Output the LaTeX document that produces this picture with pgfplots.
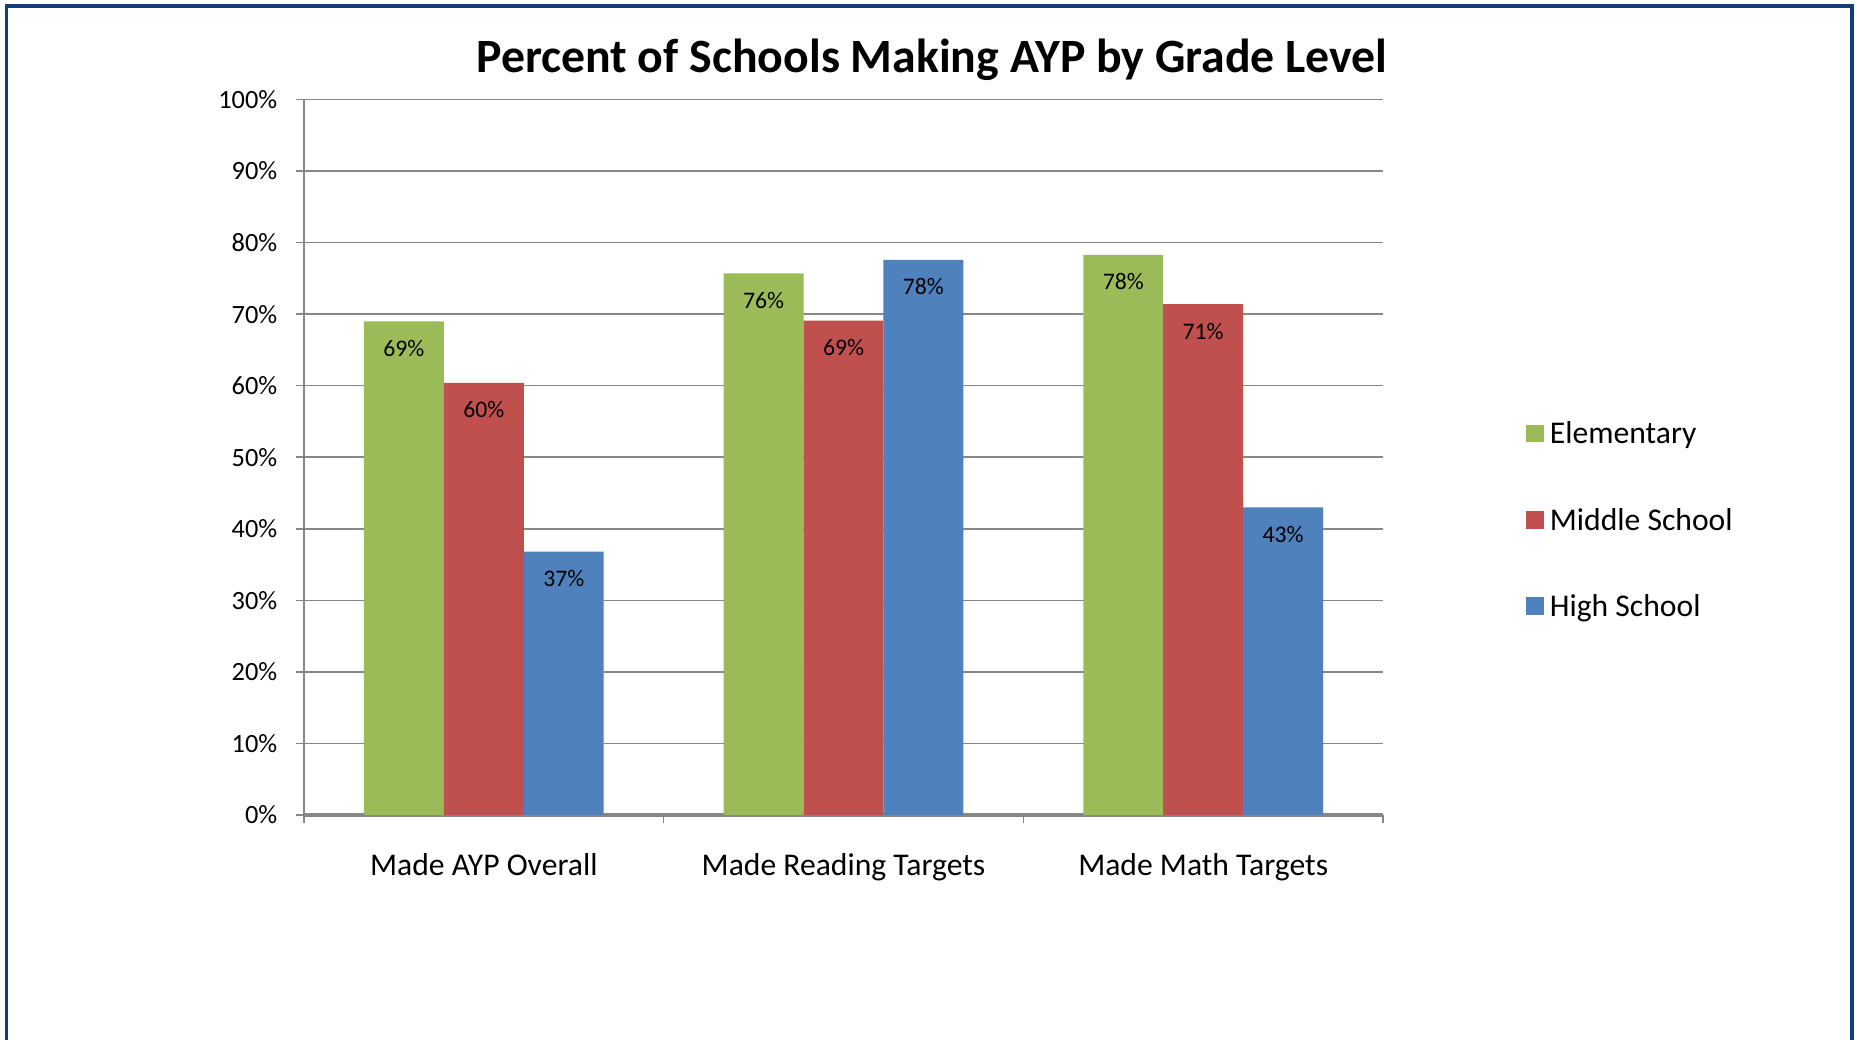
\documentclass[border=0pt]{standalone}
\usepackage{fontspec}
\setmainfont{Carlito}
\usepackage{pgfplots}
\pgfplotsset{compat=1.18}

\definecolor{elem}{HTML}{9BBB59}
\definecolor{mid}{HTML}{C0504D}
\definecolor{high}{HTML}{4F81BD}
\definecolor{gridgray}{HTML}{878787}
\definecolor{frameblue}{HTML}{123C7A}

\pgfplotsset{
  sqlegend/.style={legend image code/.code={\fill[##1] (0cm,-0.085cm) rectangle (0.177cm,0.092cm);}},
}

\begin{document}
\begin{tikzpicture}
\useasboundingbox (0,0) rectangle (18.57,10.39);
\fill[white] (0,0) rectangle (18.57,10.39);
% slide frame, open at the bottom
\draw[frameblue, line width=0.035cm] (0.067,-0.2) -- (0.067,10.332) -- (18.52,10.332) -- (18.52,-0.2);

\begin{axis}[
  at={(3.04cm,2.24cm)}, anchor=south west,
  scale only axis, width=10.79cm, height=7.155cm,
  ybar, enlargelimits=false,
  xmin=-0.5, xmax=2.5, ymin=0, ymax=100,
  xtick={-0.5,0.5,1.5,2.5}, xticklabels={},
  extra x ticks={0,1,2},
  extra x tick labels={Made AYP Overall, Made Reading Targets, Made Math Targets},
  extra x tick style={major tick length=0pt, grid=none},
  ytick={0,10,...,100},
  yticklabel={\pgfmathprintnumber{\tick}\%},
  /pgf/number format/assume math mode=true,
  axis x line*=bottom, axis y line*=left,
  x axis line style={gridgray, line width=0.9pt},
  y axis line style={gridgray, line width=0.45pt},
  tick align=outside, major tick length=0.08cm,
  tick style={gridgray, line width=0.45pt},
  ymajorgrids, grid style={gridgray, line width=0.45pt},
  yticklabel style={font=\fontsize{7.5}{9}\selectfont, anchor=east, inner xsep=0.18cm},
  xticklabel style={font=\fontsize{9}{11}\selectfont, anchor=base, yshift=-0.6cm},
  title={Percent of Schools Making AYP by Grade Level},
  title style={at={(0.582,1.026)}, anchor=center, font=\bfseries\fontsize{13.6}{16}\selectfont},
  nodes near coords={\pgfmathprintnumber[fixed,precision=0]{\pgfplotspointmeta}\%},
  every node near coord/.append style={anchor=center, yshift=-0.27cm, black, font=\fontsize{6.75}{8}\selectfont},
  legend style={at={(1.132,0.412)}, anchor=west, draw=none, fill=none, inner sep=0pt,
    row sep=0.663cm, font=\fontsize{9}{11}\selectfont,
    nodes={inner ysep=0pt, inner xsep=0.06cm, text height=0.2cm, text depth=0pt}},
  legend cell align=left,
]
\addplot[fill=elem, draw=none, bar width=0.2222, bar shift=-0.2222, sqlegend]
  coordinates {(0,69.0) (1,75.7) (2,78.3)};
\addlegendentry{Elementary}
\addplot[fill=mid, draw=none, bar width=0.2222, bar shift=0, sqlegend]
  coordinates {(0,60.4) (1,69.1) (2,71.4)};
\addlegendentry{Middle School}
\addplot[fill=high, draw=none, bar width=0.2222, bar shift=0.2222, sqlegend]
  coordinates {(0,36.8) (1,77.6) (2,43.0)};
\addlegendentry{High School}
\end{axis}
\end{tikzpicture}
\end{document}
